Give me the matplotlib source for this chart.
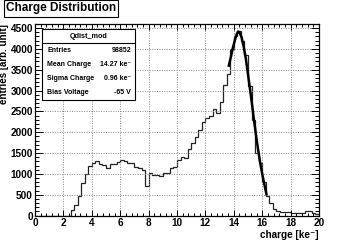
import numpy as np
import matplotlib
matplotlib.use("Agg")
import matplotlib.pyplot as plt
from matplotlib.ticker import MultipleLocator

plt.rcParams['font.family'] = ['Liberation Sans', 'DejaVu Sans']

# ---- data ----
x_range = (0.0, 20.0)
counts = [0, 0, 0, 0, 0, 0, 0, 0, 0, 0,
          130, 250, 470, 770, 1000, 1200, 1270, 1320, 1230, 1220,
          1140, 1230, 1240, 1280, 1330, 1310, 1250, 1270, 1160, 1140,
          1100, 700, 1020, 980, 975, 960, 1010, 1020, 1140, 1170,
          1330, 1400, 1370, 1590, 1750, 1880, 2050, 2250, 2340, 2380,
          2550, 2470, 2730, 3140, 3410, 4000, 4300, 4420, 4200, 3850,
          3100, 2300, 1500, 1250, 800, 480, 290, 150, 100, 90,
          85, 80, 70, 60, 50, 50, 110, 100, 50, 40]
fit_x = [13.65, 13.8, 13.95, 14.1, 14.2, 14.3, 14.4, 14.55, 14.7, 14.85,
         15.0, 15.2, 15.4, 15.6, 15.8, 16.0, 16.15, 16.3]
fit_y = [3600, 3820, 4050, 4240, 4350, 4420, 4400, 4280, 4050, 3760,
         3390, 2890, 2350, 1840, 1380, 1000, 750, 510]
stats_title = "Qdist_mod"
stats_labels = ["Entries", "Mean Charge", "Sigma Charge", "Bias Voltage"]
stats_values = ["98852", "14.27 ke\u207b", "0.96 ke\u207b", "-65 V"]
title = "Charge Distribution"
xlabel = "charge [ke\u207b]"
ylabel = "entries [arb. unit]"

fig = plt.figure(figsize=(3.55, 2.4), dpi=100)
ax = fig.add_axes([35/355, 1-215.5/240, (319-35)/355, (215.5-24)/240])

edges = np.linspace(x_range[0], x_range[1], len(counts) + 1)
ax.stairs(counts, edges, color='#222222', linewidth=0.9)
ax.plot(fit_x, fit_y, color='black', linewidth=1.8)

ax.set_xlim(*x_range)
ax.set_ylim(0, 4600)
ax.xaxis.set_major_locator(MultipleLocator(2))
ax.xaxis.set_minor_locator(MultipleLocator(0.4))
ax.yaxis.set_major_locator(MultipleLocator(500))
ax.yaxis.set_minor_locator(MultipleLocator(100))
ax.grid(True, which='major', linestyle=(0, (1, 1.5)), color='#888888', linewidth=0.7)
ax.tick_params(which='both', direction='in', top=True, right=True, width=0.7)
ax.tick_params(axis='x', which='major', length=4.5, pad=2)
ax.tick_params(axis='x', which='minor', length=2.2)
ax.tick_params(axis='y', which='major', length=5.5, pad=1.5)
ax.tick_params(axis='y', which='minor', length=2.8)
for lab in ax.get_xticklabels() + ax.get_yticklabels():
    lab.set_fontsize(7.2)
    lab.set_fontweight('bold')
for s in ax.spines.values():
    s.set_linewidth(0.9)

ax.set_xlabel(xlabel, fontsize=7.2, fontweight='bold', loc='right', labelpad=1)
ax.set_ylabel(ylabel, fontsize=7.0, fontweight='bold', loc='top', labelpad=1)

# title box
fig.text(6/355, 1-8.5/240, title, fontsize=8.5, fontweight='bold', va='center', ha='left',
         zorder=8,
         bbox=dict(boxstyle='square,pad=0.2', facecolor='white', edgecolor='black', linewidth=0.8))

# stats box
bx0, bx1, by0, by1 = 42.3, 135, 29, 100
def fx(px):
    return px / 355
def fy(py):
    return 1 - py / 240
rect = plt.Rectangle((fx(bx0), fy(by1)), fx(bx1) - fx(bx0), fy(by0) - fy(by1),
                     transform=fig.transFigure, facecolor='white', edgecolor='black',
                     linewidth=0.8, zorder=5)
fig.patches.append(rect)
fig.add_artist(plt.Line2D([fx(bx0), fx(bx1)], [fy(42.7), fy(42.7)], color='black',
                          linewidth=0.8, transform=fig.transFigure, zorder=6))
fig.text(fx((bx0 + bx1) / 2), fy(36), stats_title, fontsize=5.2, fontweight='bold',
         ha='center', va='center', zorder=7)
row_y = [50.7, 64.3, 78.7, 92.3]
for ry, lab, val in zip(row_y, stats_labels, stats_values):
    fig.text(fx(47), fy(ry), lab, fontsize=5.0, fontweight='bold', ha='left', va='center', zorder=7)
    fig.text(fx(131), fy(ry), val, fontsize=5.0, fontweight='bold', ha='right', va='center', zorder=7)

fig.savefig('out.png', dpi=100)
